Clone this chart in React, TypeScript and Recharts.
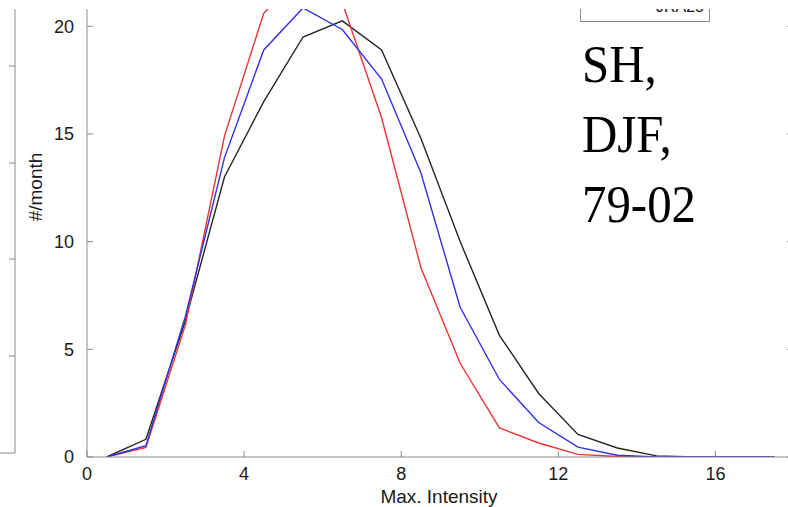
import React from 'react';
import { LineChart, Line, XAxis, YAxis } from 'recharts';

const intensity = [0.5, 1.5, 2.5, 3.5, 4.5, 5.5, 6.5, 7.5, 8.5, 9.5, 10.5, 11.5, 12.5, 13.5, 14.5, 15.5, 16.5, 17.5];
const seriesBlack = [0, 0.82, 6.3, 13.0, 16.5, 19.5, 20.25, 18.9, 14.8, 10.0, 5.65, 2.95, 1.05, 0.42, 0.05, 0, 0, 0];
const seriesBlue = [0, 0.53, 6.5, 13.9, 18.9, 20.85, 19.85, 17.55, 13.2, 6.95, 3.6, 1.6, 0.46, 0.08, 0, 0, 0, 0];
const seriesRed = [0, 0.44, 6.1, 14.9, 20.6, 22.5, 21.1, 15.75, 8.8, 4.35, 1.35, 0.65, 0.12, 0.02, 0, 0, 0, 0];
const xTicks = [0, 4, 8, 12, 16];
const yTicks = [0, 5, 10, 15, 20];
const panelLabel = ['SH,', 'DJF,', '79-02'];
const legendFragment = 'JRA25';
const neighbourTicks = [66, 163, 259, 356];

const data = intensity.map((x, i) => ({
  x,
  black: seriesBlack[i],
  blue: seriesBlue[i],
  red: seriesRed[i],
}));

const AXIS = '#8a8a8a';
const FONT = '"Liberation Sans", Arial, sans-serif';

export default function App() {
  return (
    <div style={{ position: 'absolute', left: 0, top: 0, width: 788, height: 507, overflow: 'hidden', background: '#fff' }}>
      <LineChart width={800} height={507} data={data} margin={{ top: 9, right: 0, bottom: 0, left: 0 }}>
        <XAxis
          type="number"
          dataKey="x"
          domain={[0, 18]}
          ticks={xTicks}
          height={50}
          stroke={AXIS}
          tickSize={-6}
          tickMargin={16}
          tick={{ fill: '#1a1a1a', fontSize: 18, fontFamily: FONT }}
          label={{
            content: () => (
              <text x={439} y={503} textAnchor="middle" fontSize={19} fontFamily={FONT} fill="#1a1a1a">
                Max. Intensity
              </text>
            ),
          }}
        />
        <YAxis
          yAxisId="left"
          type="number"
          domain={[0, 20.8]}
          allowDataOverflow
          ticks={yTicks}
          width={87}
          stroke={AXIS}
          tickSize={-6}
          tickMargin={19}
          tick={{ fill: '#1a1a1a', fontSize: 18, fontFamily: FONT }}
          label={{
            content: () => (
              <text
                x={35}
                y={187}
                transform="rotate(-90 35 187)"
                textAnchor="middle"
                dominantBaseline="central"
                fontSize={19}
                fontFamily={FONT}
                fill="#1a1a1a"
              >
                #/month
              </text>
            ),
          }}
        />
        <YAxis
          yAxisId="right"
          orientation="right"
          type="number"
          domain={[0, 20.8]}
          allowDataOverflow
          ticks={yTicks}
          width={6}
          stroke={AXIS}
          tickSize={-7}
          tickFormatter={() => ''}
        />
        <Line yAxisId="left" type="linear" dataKey="black" stroke="#262626" strokeWidth={1.4} dot={false} isAnimationActive={false} />
        <Line yAxisId="left" type="linear" dataKey="red" stroke="#ee3333" strokeWidth={1.4} dot={false} isAnimationActive={false} />
        <Line yAxisId="left" type="linear" dataKey="blue" stroke="#3030e8" strokeWidth={1.4} dot={false} isAnimationActive={false} />
      </LineChart>
      <svg width={788} height={507} style={{ position: 'absolute', left: 0, top: 0, pointerEvents: 'none' }}>
        {/* neighbouring panel frame fragment on the left */}
        <line x1={15} y1={9} x2={15} y2={453} stroke={AXIS} strokeWidth={1} />
        <line x1={0} y1={453} x2={15} y2={453} stroke={AXIS} strokeWidth={1} />
        {neighbourTicks.map((t) => (
          <line key={t} x1={9} y1={t} x2={15} y2={t} stroke={AXIS} strokeWidth={1} />
        ))}
        {/* legend box (mostly cut off at the top of the crop) */}
        <rect x={580.5} y={-20} width={129} height={41.5} fill="#fff" stroke={AXIS} strokeWidth={1} />
        <text x={704} y={12} textAnchor="end" fontSize={16} fontFamily={FONT} fill="#111">
          {legendFragment}
        </text>
        {/* white band at the top of the crop */}
        <rect x={0} y={0} width={788} height={9} fill="#fff" />
        {panelLabel.map((s, i) => (
          <text
            key={s}
            x={0}
            y={0}
            transform={`translate(582 ${82 + i * 70}) scale(0.94 1)`}
            fontSize={52}
            fontFamily='"Liberation Serif", "Times New Roman", serif'
            fill="#000"
          >
            {s}
          </text>
        ))}
      </svg>
    </div>
  );
}
